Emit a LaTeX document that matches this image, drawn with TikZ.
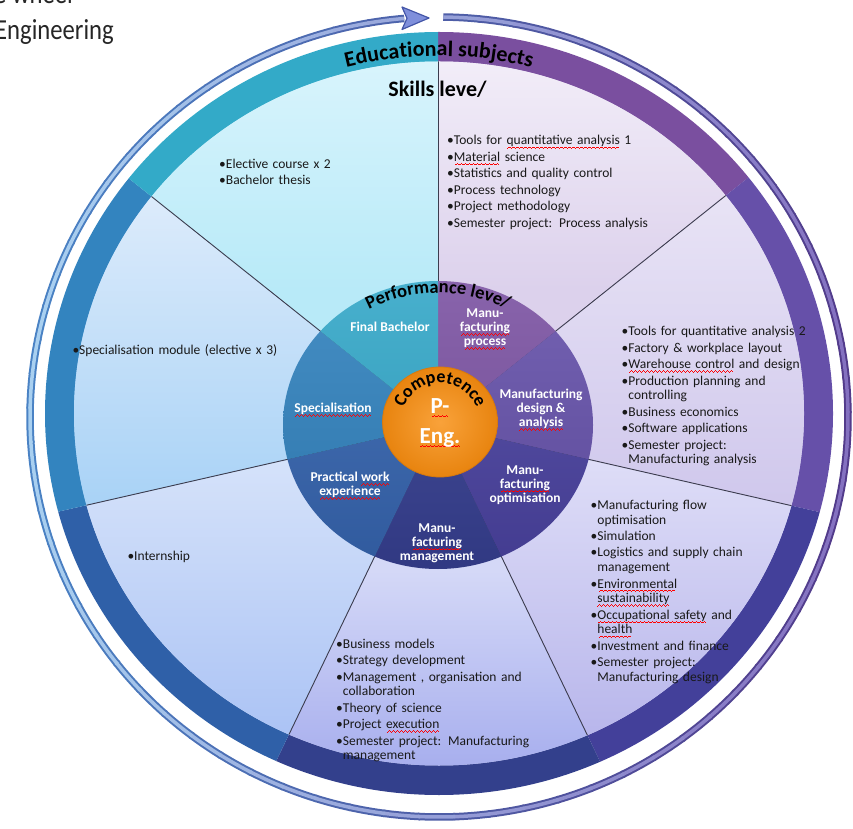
\documentclass[tikz,border=0pt]{standalone}
\usepackage{fontspec}
\usepackage{graphicx}
\setmainfont{Carlito}
\usetikzlibrary{calc,decorations.text}
\newsavebox\sqbox
\newcommand\wavebit{\hbox{\rule[0pt]{1pt}{0.75pt}\rule[0.7pt]{1pt}{0.75pt}\rule[1.4pt]{1pt}{0.75pt}\rule[0.7pt]{1pt}{0.75pt}}}
\newcommand\sqw[1]{\sbox\sqbox{#1}\rlap{\lower3.8pt\hbox to \wd\sqbox{\color{red}\cleaders\wavebit\hfil}}\usebox\sqbox}
\newcommand\ind{\phantom{•}}
\newcommand\lfont{\fontsize{13.5}{14.7}\selectfont}
\definecolor{bandA}{HTML}{7A4F9F}
\definecolor{bandB}{HTML}{6650A9}
\definecolor{bandC}{HTML}{43409A}
\definecolor{bandD}{HTML}{33408C}
\definecolor{bandE}{HTML}{2F60A8}
\definecolor{bandF}{HTML}{3384BF}
\definecolor{bandG}{HTML}{33AAC8}
\definecolor{ltA}{HTML}{F2EDF8}\definecolor{lbA}{HTML}{DCD1EC}
\definecolor{ltB}{HTML}{E8E3F5}\definecolor{lbB}{HTML}{CFC7EC}
\definecolor{ltC}{HTML}{DEDDF7}\definecolor{lbC}{HTML}{B4B2EA}
\definecolor{ltD}{HTML}{D4D8F7}\definecolor{lbD}{HTML}{A8AFEE}
\definecolor{ltE}{HTML}{D5E2FA}\definecolor{lbE}{HTML}{A7C0F4}
\definecolor{ltF}{HTML}{DCEBFB}\definecolor{lbF}{HTML}{A8D2F6}
\definecolor{ltG}{HTML}{D8F4FC}\definecolor{lbG}{HTML}{B8EAF8}
\definecolor{inA}{HTML}{7B52A2}
\definecolor{inB}{HTML}{6551AA}
\definecolor{inC}{HTML}{4A42A0}
\definecolor{inD}{HTML}{363F91}
\definecolor{inE}{HTML}{3564AF}
\definecolor{inF}{HTML}{3182BE}
\definecolor{inG}{HTML}{33A7C8}
\definecolor{ringPd}{HTML}{523A8A}
\definecolor{ringBd}{HTML}{4A82C4}
\definecolor{ringPl}{HTML}{8470C0}
\definecolor{ringBl}{HTML}{A9D0F0}
\definecolor{arrD}{HTML}{4456A8}
\definecolor{arrF}{HTML}{7F8FDB}
\definecolor{orA}{HTML}{F9A23A}
\definecolor{orB}{HTML}{E8840F}
\definecolor{orC}{HTML}{D97A0C}
\definecolor{sepc}{HTML}{3C3C4E}
\tikzset{
  lst/.style={anchor=base west, align=left, text width=260pt, inner sep=0pt, font=\lfont, text=black!90},
  inl/.style={align=center, inner sep=0pt, text=white, font=\fontsize{13.5}{14}\selectfont\bfseries},
  sepl/.style={draw=sepc, line width=0.9pt},
  ttl/.style={anchor=base west, inner sep=0pt, font=\fontsize{29}{29}\selectfont, text=black!85},
}
\begin{document}
\begin{tikzpicture}[x=1pt,y=1pt]
\useasboundingbox (0,0) rectangle (853,828);
\clip (0,0) rectangle (853,828);
\coordinate (O) at (439,414.5);
\coordinate (I) at (438,403);
\coordinate (R) at (439,411);
\coordinate (Q) at (440,406);
% outer arrow ring
\foreach \i in {0,...,71}{
  \pgfmathsetmacro\aa{89.4-\i*4.92}
  \pgfmathsetmacro\ab{\aa-5.2}
  \pgfmathtruncatemacro\m{50+50*cos(\aa)}
  \draw[line width=7.5pt, color=ringPd!\m!ringBd] ($(R)+(\aa:409pt and 400pt)$) arc[start angle=\aa, end angle=\ab, x radius=409pt, y radius=400pt];
}
\foreach \i in {0,...,71}{
  \pgfmathsetmacro\aa{89.4-\i*4.92}
  \pgfmathsetmacro\ab{\aa-5.2}
  \pgfmathtruncatemacro\m{50+50*cos(\aa)}
  \draw[line width=3.5pt, color=ringPl!\m!ringBl] ($(R)+(\aa:409pt and 400pt)$) arc[start angle=\aa, end angle=\ab, x radius=409pt, y radius=400pt];
}
\filldraw[draw=arrD, fill=arrF, line width=1.2pt, line join=round] (402,821) -- (429,810) -- (402,798.5) -- (407,809.7) -- cycle;
% outer sectors
\foreach \sa/\sb/\bc/\lt/\lb/\fc/\yt/\yb in {90/38.571/bandA/ltA/lbA/lbA/767/538,38.571/-12.857/bandB/ltB/lbB/lbB/631/318,-12.857/-64.286/bandC/ltC/lbC/ltC/368/63,-64.286/-115.714/bandD/ltD/lbD/ltD/258/63,-115.714/-167.143/bandE/ltE/lbE/ltE/368/63,-167.143/-218.571/bandF/ltF/lbF/lbF/631/318,-218.571/-270/bandG/ltG/lbG/lbG/767/538}{
  \begin{scope}
    \clip (I) -- ($(I)+(\sa:900)$) -- ($(I)+({(\sa+\sb)/2}:900)$) -- ($(I)+(\sb:900)$) -- cycle;
    \fill[\bc] (O) ellipse[x radius=394pt, y radius=381.5pt];
    \clip (O) ellipse[x radius=365pt, y radius=352pt];
    \fill[\fc] (0,0) rectangle (853,828);
    \shade[top color=\lt, bottom color=\lb] (0,\yb) rectangle (853,\yt);
  \end{scope}
}
\begin{scope}
  \clip (O) ellipse[x radius=365pt, y radius=352pt];
  \foreach \sa in {90,38.571,-12.857,-64.286,-115.714,-167.143,141.429}
    \draw[sepl] (I) -- ($(I)+(\sa:600)$);
\end{scope}
% inner disc
\foreach \sa/\sb/\ic in {90/38.571/inA,38.571/-12.857/inB,-12.857/-64.286/inC,-64.286/-115.714/inD,-115.714/-167.143/inE,-167.143/-218.571/inF,-218.571/-270/inG}{
  \begin{scope}
    \clip (I) -- ($(I)+(\sa:900)$) -- ($(I)+({(\sa+\sb)/2}:900)$) -- ($(I)+(\sb:900)$) -- cycle;
    \clip (I) ellipse[x radius=155pt, y radius=144pt];
    \shade[top color=\ic!90!white, bottom color=\ic!90!black] (283,259) rectangle (593,547);
  \end{scope}
}
% competence circle
\shade[inner color=orA, outer color=orB] (Q) ellipse[x radius=57.5pt, y radius=55pt];
\draw[orC, line width=0.8pt] (Q) ellipse[x radius=57.5pt, y radius=55pt];
% curved texts
\path[decorate, decoration={text along path, text align=center, text={|\fontsize{22}{22}\selectfont\bfseries|Educational subjects}}] ($(O)+(125:369.2pt and 357.5pt)$) arc[start angle=125, end angle=55, x radius=369.2pt, y radius=357.5pt];
\path[decorate, decoration={text along path, text align=center, text={|\fontsize{18.5}{18.5}\selectfont\bfseries|Performance leve/}}] ($(I)+(150:143pt and 132pt)$) arc[start angle=150, end angle=30, x radius=143pt, y radius=132pt];
\path[decorate, decoration={text along path, text align=center, text={|\fontsize{18}{18}\selectfont\bfseries|Competence}}] ($(Q)+(175:39pt)$) arc[start angle=175, end angle=5, radius=39pt];
% centre texts
\node[anchor=base, inner sep=0pt, text=white, font=\fontsize{23}{23}\selectfont\bfseries] (pp) at (440,414.7) {\sqw{P-}};
\node[anchor=base, inner sep=0pt, text=white, font=\fontsize{23}{23}\selectfont\bfseries] (pe) at (440,384.7) {\sqw{Eng.}};
\node[anchor=base, inner sep=0pt, font=\fontsize{22}{22}\selectfont\bfseries] (sk) at (437.5,731.3) {Skills leve/};
% inner labels
\node[inl] (lg) at (390,501) {Final Bachelor};
\node[inl] (la) at (485,499) {Manu-\\\sqw{facturing}\\\sqw{process}};
\node[inl] (lb) at (541,418) {Manufacturing\\design \&\\\sqw{analysis}};
\node[inl] (lc) at (525,343) {Manu-\\\sqw{facturing}\\optimisation};
\node[inl] (ld) at (437,285) {Manu-\\\sqw{facturing}\\management};
\node[inl] (le) at (350,342) {Practical \sqw{work}\\\sqw{experience}};
\node[inl] (lf) at (333,418) {\sqw{Specialisation}};
% lists
\node[lst] (sa) at (447,683) {•Tools for \sqw{quantitative analysis} 1\\[1.75pt]•\sqw{Material} science\\[1.75pt]•Statistics and quality control\\[1.75pt]•Process technology\\[1.75pt]•Project methodology\\[1.75pt]•Semester project: Process analysis};
\node[lst] (sb) at (621.5,492.3) {•Tools for quantitative analysis 2\\[1.75pt]•Factory \& workplace layout\\[1.75pt]•\sqw{Warehouse control} and design\\[1.75pt]•Production planning and\\\ind controlling\\[1.75pt]•Business economics\\[1.75pt]•Software applications\\[1.75pt]•Semester project:\\\ind Manufacturing analysis};
\node[lst] (sc) at (590.5,318.7) {•Manufacturing flow\\\ind optimisation\\[1.75pt]•Simulation\\[1.75pt]•Logistics and supply chain\\\ind management\\[1.75pt]•\sqw{Environmental}\\\ind\sqw{sustainability}\\[1.75pt]•\sqw{Occupational safety} and\\\ind\sqw{health}\\[1.75pt]•Investment and finance\\[1.75pt]•Semester project:\\\ind Manufacturing design};
\node[lst] (sd) at (336,179.7) {•Business models\\[1.75pt]•Strategy development\\[1.75pt]•Management , organisation and\\\ind collaboration\\[1.75pt]•Theory of science\\[1.75pt]•Project \sqw{execution}\\[1.75pt]•Semester project: Manufacturing\\\ind management};
\node[lst] (sg) at (219,659.7) {•Elective course x 2\\[1.75pt]•Bachelor thesis};
\node[lst] (sf) at (72.3,473.7) {•Specialisation module (elective x 3)};
\node[lst] (se) at (127.3,267.3) {•Internship};
% title
\node[ttl] (t1) at (-6,824) {\scalebox{0.85}[1]{e wheel –}};
\node[ttl] (t2) at (-5,788) {\scalebox{0.85}[1]{Engineering}};
\end{tikzpicture}
\end{document}
